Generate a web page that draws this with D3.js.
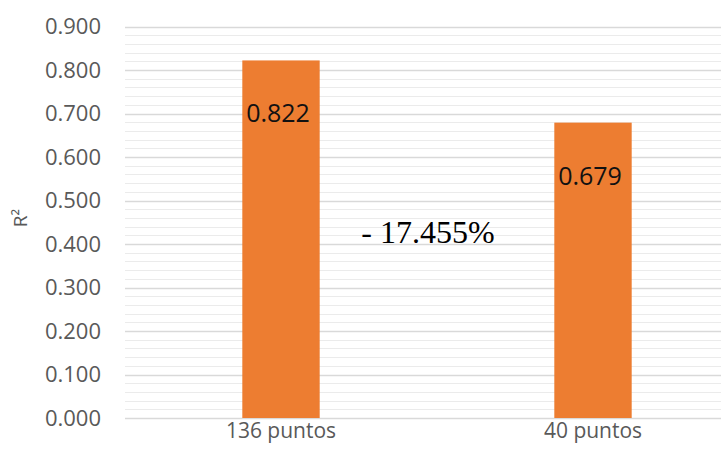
<!DOCTYPE html>
<html>
<head>
<meta charset="utf-8">
<script src="https://cdn.jsdelivr.net/npm/d3@7"></script>
<style>
  html, body { margin: 0; padding: 0; background: #fff; }
  svg { display: block; }
</style>
</head>
<body>
<script>
const categories = ["136 puntos", "40 puntos"];
const values = [0.822, 0.679];
const valueLabels = ["0.822", "0.679"];
const majorTicks = [0, 0.1, 0.2, 0.3, 0.4, 0.5, 0.6, 0.7, 0.8, 0.9];
const minorTicks = d3.range(0, 0.9001, 0.02);
const yTitle = "R²";
const annotation = "- 17.455%";

const W = 721, H = 451;
const svg = d3.select("body").append("svg").attr("width", W).attr("height", H);

const x = d3.scaleBand().domain(categories).range([125, 749]).paddingInner(0.752).paddingOuter(0.376);
const y = d3.scaleLinear().domain([0, 0.9]).range([418, 26.5]);

// minor gridlines
svg.append("g").selectAll("line").data(minorTicks).join("line")
  .attr("x1", 125).attr("x2", W)
  .attr("y1", d => Math.round(y(d)) + 0.5).attr("y2", d => Math.round(y(d)) + 0.5)
  .attr("stroke", "#ebebeb").attr("stroke-width", 1);

// major gridlines
svg.append("g").selectAll("line").data(majorTicks).join("line")
  .attr("x1", 125).attr("x2", W)
  .attr("y1", d => Math.round(y(d)) + 0.5).attr("y2", d => Math.round(y(d)) + 0.5)
  .attr("stroke", "#d9d9d9").attr("stroke-width", 1.3);

// y axis tick labels
const yAxis = d3.axisLeft(y).tickValues(majorTicks).tickFormat(d3.format(".3f")).tickSize(0).tickPadding(0);
const gy = svg.append("g").attr("transform", "translate(101,0)").call(yAxis);
gy.select(".domain").remove();
gy.selectAll("text").attr("fill", "#595959").style("font-family", "'Open Sans', sans-serif").style("font-size", "22px");

// bars
svg.append("g").selectAll("rect").data(values).join("rect")
  .attr("x", (d, i) => x(categories[i]))
  .attr("width", x.bandwidth())
  .attr("y", d => y(d))
  .attr("height", d => y(0) - y(d))
  .attr("fill", "#ED7D31");

// value labels
svg.append("g").selectAll("text").data(values).join("text")
  .attr("x", (d, i) => x(categories[i]) + x.bandwidth() / 2 - 3)
  .attr("y", d => y(d) + 62)
  .attr("text-anchor", "middle")
  .attr("fill", "#111")
  .style("font-family", "'Open Sans', sans-serif")
  .style("font-size", "25px")
  .text((d, i) => valueLabels[i]);

// x axis labels
const xAxis = d3.axisBottom(x).tickSize(0).tickPadding(0);
const gx = svg.append("g").attr("transform", "translate(0,423)").call(xAxis);
gx.select(".domain").remove();
gx.selectAll("text").attr("fill", "#595959").attr("dy", "0.71em")
  .style("font-family", "'Open Sans', sans-serif").style("font-size", "21px");

// y title
svg.append("text")
  .attr("transform", "translate(27,218) rotate(-90)")
  .attr("text-anchor", "middle")
  .attr("fill", "#595959")
  .style("font-family", "'Open Sans', sans-serif")
  .style("font-size", "19px")
  .text(yTitle);

// annotation
const midX = (x(categories[0]) + x.bandwidth() + x(categories[1])) / 2;
svg.append("text")
  .attr("x", midX - 9)
  .attr("y", y(0.402))
  .attr("text-anchor", "middle")
  .attr("fill", "#000")
  .style("font-family", "'Liberation Serif', 'Times New Roman', serif")
  .style("font-size", "32px")
  .text(annotation);
</script>
</body>
</html>
